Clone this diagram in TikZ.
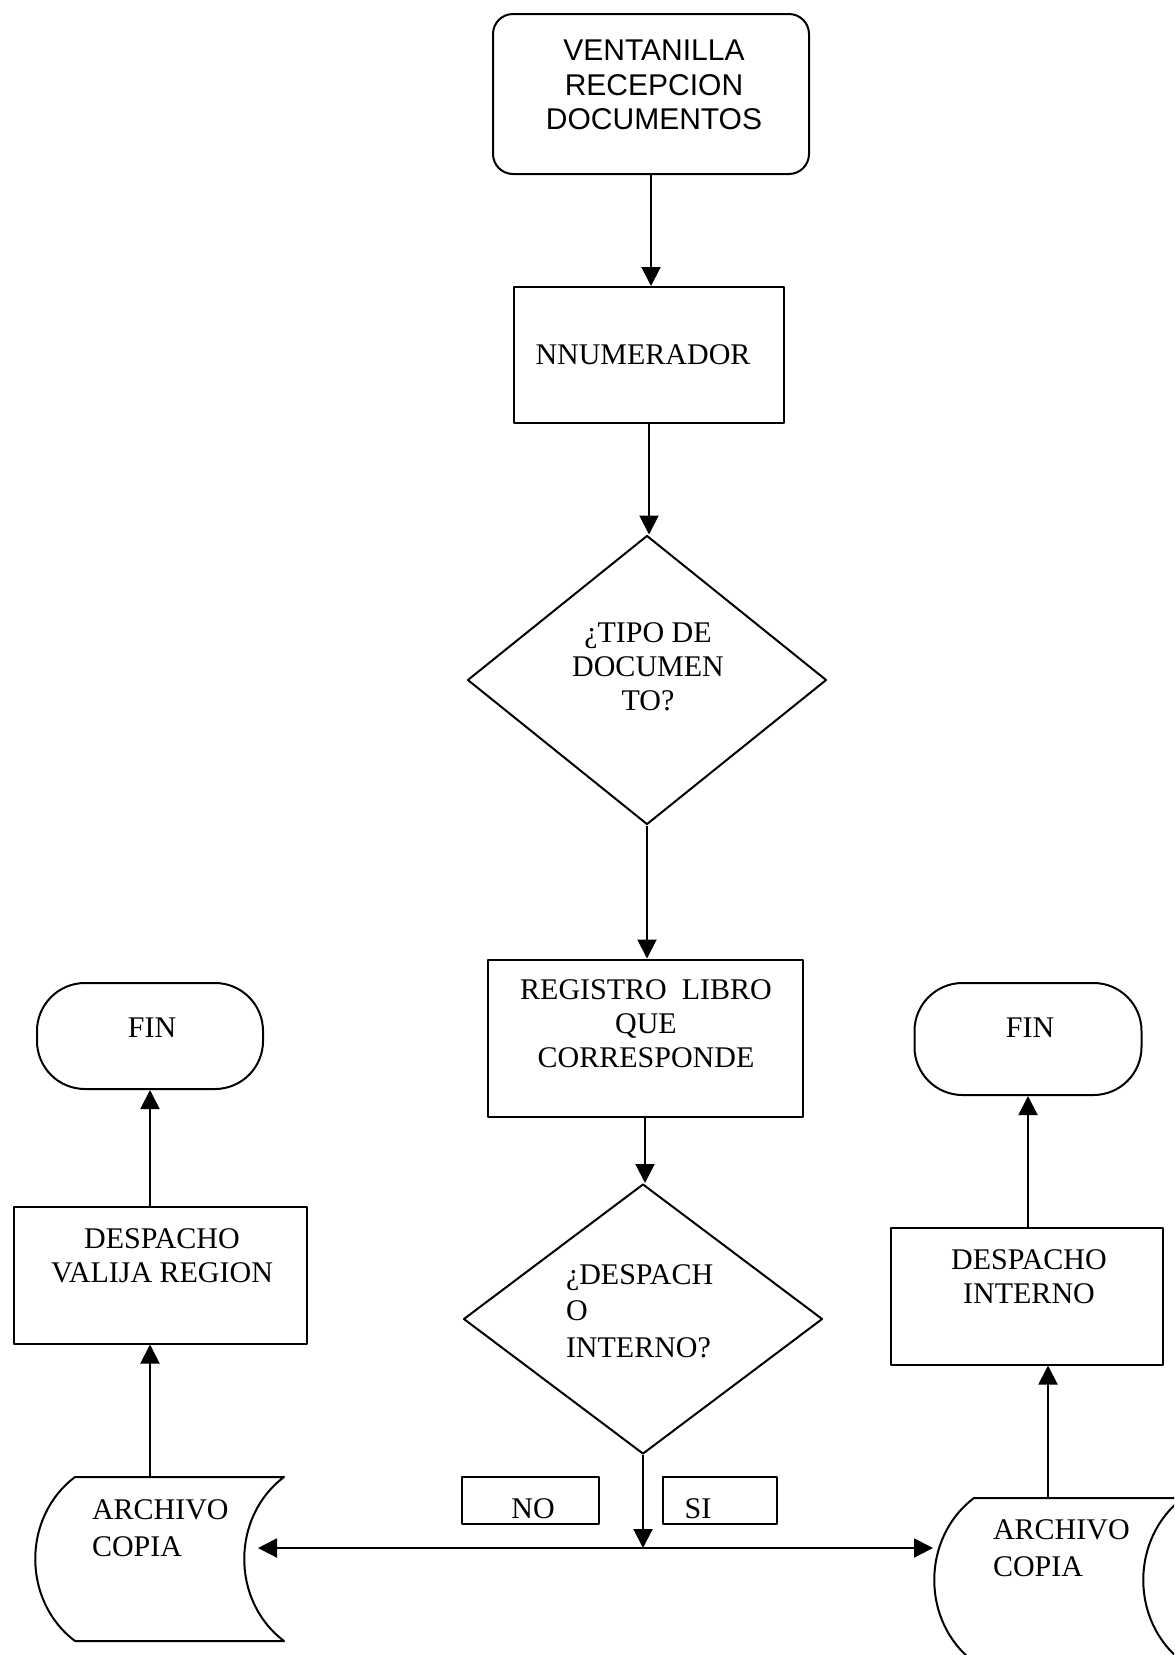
\documentclass[tikz,border=0pt]{standalone}
\usepackage{fontspec}
\setmainfont{Liberation Serif}
\newfontfamily\arialfont{Liberation Sans}
\usetikzlibrary{shapes.geometric,arrows.meta,calc}

\begin{document}
\begin{tikzpicture}[x=0.5pt,y=-0.5pt,
  line width=1pt, line join=round,
  box/.style={draw, rectangle, inner sep=0pt},
  decision/.style={draw, diamond, inner sep=0pt},
  terminal/.style={draw, rectangle, rounded corners=24pt, inner sep=0pt},
  store/.style={rectangle, inner sep=0pt, minimum width=124pt, minimum height=81pt},
  lbl/.style={inner sep=0pt, align=center, font=\fontsize{15pt}{17pt}\selectfont},
  lbll/.style={inner sep=0pt, align=left, font=\fontsize{15pt}{18.25pt}\selectfont},
  arr/.style={-{Triangle[length=9.5pt,width=9.5pt]}, line width=1pt},
]
\useasboundingbox (0,0) rectangle (1174,1655);
\clip (0,0) rectangle (1174,1655);

% main column
\node[box, rounded corners=10pt, minimum width=158pt, minimum height=80pt] (start) at (651,94) {};
\node[lbl, font=\arialfont\fontsize{15pt}{17.25pt}\selectfont] (startT) at (654,85) {VENTANILLA\\RECEPCION\\DOCUMENTOS};

\node[box, minimum width=135pt, minimum height=68pt] (num) at (649,355) {};
\node[lbl] (numT) at (643,355) {NNUMERADOR};

\node[decision, minimum width=179.5pt, minimum height=144.5pt] (d1) at (647,680) {};
\node[lbl] (d1T) at (648,667) {¿TIPO DE\\DOCUMEN\\TO?};

\node[box, minimum width=157.5pt, minimum height=78.5pt] (reg) at (645,1038) {};
\node[lbl] (regT) at (646,1024) {REGISTRO\ \ LIBRO\\QUE\\CORRESPONDE};

\node[decision, minimum width=179.5pt, minimum height=135pt] (d2) at (643,1319) {};
\node[lbll, anchor=west] (d2T) at (565,1311) {¿DESPACH\\O\\INTERNO?};

\node[box, minimum width=68.5pt, minimum height=23.5pt] (nob) at (530,1500) {};
\node[lbl] (noT) at (533,1509) {NO};
\node[box, minimum width=57pt, minimum height=23.5pt] (sib) at (720,1500) {};
\node[lbl] (siT) at (698,1509) {SI};

% left branch
\node[terminal, minimum width=113pt, minimum height=53pt] (fin1) at (150,1036) {};
\node[lbl] (fin1T) at (152,1028) {FIN};
\node[box, minimum width=146.5pt, minimum height=68.5pt] (desp1) at (160,1275) {};
\node[lbl] (desp1T) at (162,1256) {DESPACHO\\VALIJA REGION};
\node[store] (arcL) at (159,1559) {};
\node[lbll, anchor=west, font=\fontsize{15pt}{18.5pt}\selectfont] (arcLT) at (91,1528) {ARCHIVO\\COPIA};

% right branch
\node[terminal, minimum width=113.5pt, minimum height=56pt] (fin2) at (1028,1039) {};
\node[lbl] (fin2T) at (1030,1028) {FIN};
\node[box, minimum width=136pt, minimum height=68.5pt] (desp2) at (1027,1296) {};
\node[lbl] (desp2T) at (1029,1277) {DESPACHO\\INTERNO};
\node[store] (arcR) at (1058,1580) {};
\node[lbll, anchor=west, font=\fontsize{15pt}{18.5pt}\selectfont] (arcRT) at (992,1548) {ARCHIVO\\COPIA};

% stored-data outlines
\foreach \s in {arcL,arcR}{
  \draw ($(\s.north west)+(41,0)$) -- (\s.north east)
    .. controls +(-53,40) and +(-53,-40) .. (\s.south east)
    -- ($(\s.south west)+(41,0)$)
    .. controls +(-53,-40) and +(-53,40) .. ($(\s.north west)+(41,0)$) -- cycle;
}

% connectors
\coordinate (jn) at (643,1548);
\coordinate (inL) at (258,1548);
\coordinate (inR) at (933,1548);

\draw[arr] (start) -- (start |- num.north);
\draw[arr] (num) -- (num |- d1.north);
\draw[arr] (d1) -- (d1 |- reg.north);
\draw[arr] (reg) -- (reg |- d2.north);
\draw[arr] (d2) -- (jn);
\draw[arr] (jn) -- (inL);
\draw[arr] (jn) -- (inR);

\draw[arr] (arcL.north -| fin1) -- (desp1.south -| fin1);
\draw[arr] (desp1.north -| fin1) -- (fin1);
\draw[arr] ([xshift=-5pt]arcR.north) -- ([xshift=-5pt]arcR.north |- desp2.south);
\draw[arr] (desp2.north -| fin2) -- (fin2);
\end{tikzpicture}
\end{document}
